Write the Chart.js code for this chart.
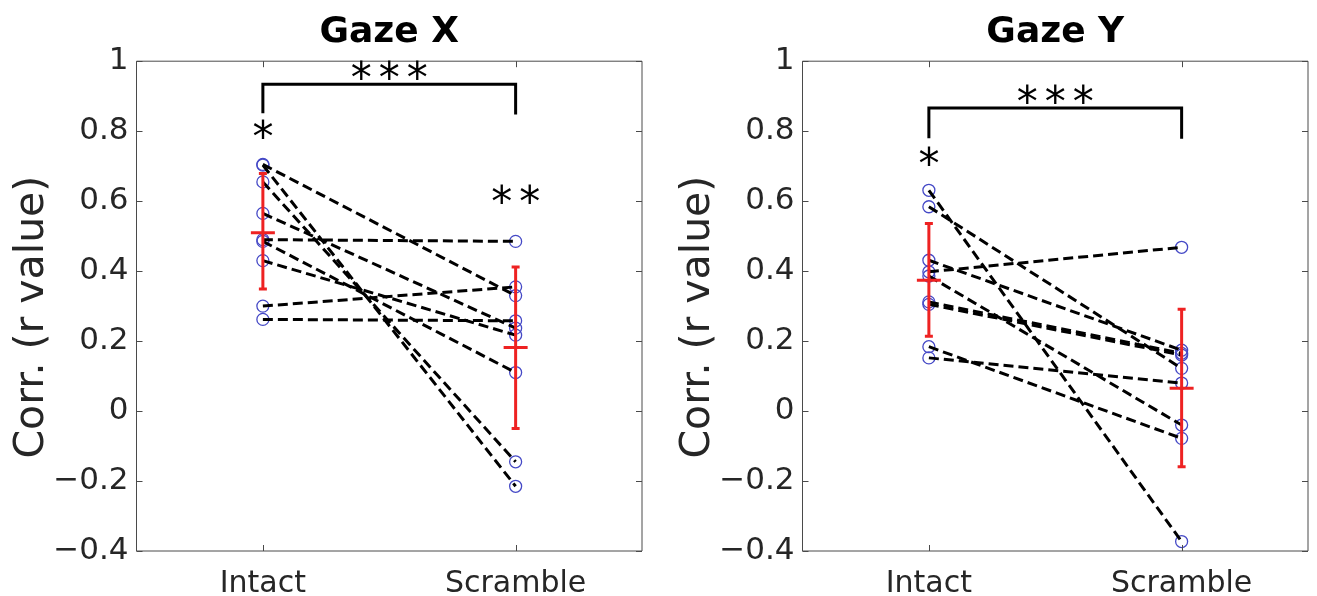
<!DOCTYPE html>
<html>
<head>
<meta charset="utf-8">
<script src="https://cdn.jsdelivr.net/npm/chart.js@4.4.1/dist/chart.umd.min.js"></script>
<style>
    html, body { margin: 0; padding: 0; background: #fff; }
    #wrap { position: relative; width: 1317px; height: 596px; overflow: hidden; }
    canvas { position: absolute; top: 0; }
    #gazeX { left: 0; }
    #gazeY { left: 666px; }
</style>
</head>
<body>
<div id="wrap">
    <canvas id="gazeX" width="657" height="596"></canvas>
    <canvas id="gazeY" width="657" height="596"></canvas>
</div>
<script>
// Bedingungen auf der x-Achse (Position 1 und 2)
var conditions = ['Intact', 'Scramble'];
var yTicks = [-0.4, -0.2, 0, 0.2, 0.4, 0.6, 0.8, 1];
var yTickLabels = ['\u22120.4', '\u22120.2', '0', '0.2', '0.4', '0.6', '0.8', '1'];
var yLabel = 'Corr. (r value)';

// Gaze X: Korrelation pro Proband (gleicher Index = gleicher Proband)
var gazeXIntact   = [0.705, 0.703, 0.655, 0.565, 0.490, 0.485, 0.430, 0.300, 0.262];
var gazeXScramble = [0.330, -0.215, -0.145, 0.237, 0.485, 0.110, 0.217, 0.355, 0.258];
var gazeXMean = [0.510, 0.182];
var gazeXLow  = [0.349, -0.050];
var gazeXHigh = [0.679, 0.412];

// Gaze Y
var gazeYIntact   = [0.631, 0.584, 0.431, 0.398, 0.386, 0.312, 0.305, 0.184, 0.152];
var gazeYScramble = [-0.373, 0.122, 0.174, 0.468, -0.040, 0.165, 0.160, -0.078, 0.080];
var gazeYMean = [0.374, 0.065];
var gazeYLow  = [0.214, -0.159];
var gazeYHigh = [0.536, 0.291];

// Signifikanz: Klammer (Höhe, Ende links, Ende rechts), Sterne über der Klammer,
// Sterne je Bedingung und deren Höhe
var gazeXBracket = [0.934, 0.851, 0.848];
var gazeXBracketStars = [3, 0.975];
var gazeXStars  = [1, 2];
var gazeXStarsY = [0.806, 0.620];

var gazeYBracket = [0.866, 0.780, 0.778];
var gazeYBracketStars = [3, 0.905];
var gazeYStars  = [1, 0];
var gazeYStarsY = [0.729, 0];

var RED = '#ee2222';
var BLUE = '#4549c6';
var AXIS = '#262626';

// Rahmen mit nach innen zeigenden Ticks (wie bei MATLAB "box on") plus y-Beschriftung
var boxAxes = {
    id: 'boxAxes',
    afterDraw: function(chart) {
        var ctx = chart.ctx, a = chart.chartArea;
        var xs = chart.scales.x, ys = chart.scales.y;
        var len = 6;
        ctx.save();
        ctx.strokeStyle = '#4a4a4a';
        ctx.lineWidth = 1;
        ctx.beginPath();
        ctx.rect(a.left, a.top, a.right - a.left, a.bottom - a.top);
        yTicks.forEach(function(v) {
            var y = Math.round(ys.getPixelForValue(v)) + 0.5;
            ctx.moveTo(a.left, y); ctx.lineTo(a.left + len, y);
            ctx.moveTo(a.right, y); ctx.lineTo(a.right - len, y);
        });
        conditions.forEach(function(c, i) {
            var x = Math.round(xs.getPixelForValue(i + 1)) + 0.5;
            ctx.moveTo(x, a.bottom); ctx.lineTo(x, a.bottom - len);
            ctx.moveTo(x, a.top); ctx.lineTo(x, a.top + len);
        });
        ctx.stroke();

        // Achsentitel, etwas unterhalb der Achsenmitte
        ctx.translate(32, (a.top + a.bottom) / 2 + 11);
        ctx.rotate(-Math.PI / 2);
        ctx.fillStyle = AXIS;
        ctx.font = '41px "DejaVu Sans"';
        ctx.textAlign = 'center';
        ctx.textBaseline = 'middle';
        ctx.fillText(yLabel, 0, 0);
        ctx.restore();
    }
};

function drawStars(ctx, cx, cy, n) {
    if (!n) return;
    var gap = 28;
    ctx.font = '42px "DejaVu Sans"';
    ctx.textAlign = 'center';
    ctx.textBaseline = 'alphabetic';
    var m = ctx.measureText('*');
    var yb = cy + (m.actualBoundingBoxAscent - m.actualBoundingBoxDescent) / 2;
    for (var k = 0; k < n; k++) {
        ctx.fillText('*', cx + (k - (n - 1) / 2) * gap, yb);
    }
}

// Klammer und Sterne
var sigMarks = {
    id: 'sigMarks',
    afterDraw: function(chart, args, opts) {
        var ctx = chart.ctx;
        var xs = chart.scales.x, ys = chart.scales.y;
        var x1 = xs.getPixelForValue(1), x2 = xs.getPixelForValue(2);
        var yb = ys.getPixelForValue(opts.bracket[0]);
        ctx.save();
        ctx.strokeStyle = '#000';
        ctx.fillStyle = '#000';
        ctx.lineWidth = 3;
        ctx.lineJoin = 'miter';
        ctx.beginPath();
        ctx.moveTo(x1, ys.getPixelForValue(opts.bracket[1]));
        ctx.lineTo(x1, yb);
        ctx.lineTo(x2, yb);
        ctx.lineTo(x2, ys.getPixelForValue(opts.bracket[2]));
        ctx.stroke();
        drawStars(ctx, (x1 + x2) / 2, ys.getPixelForValue(opts.bracketStars[1]), opts.bracketStars[0]);
        opts.stars.forEach(function(n, i) {
            drawStars(ctx, xs.getPixelForValue(i + 1), ys.getPixelForValue(opts.starsY[i]), n);
        });
        ctx.restore();
    }
};

function buildPanel(id, title, intact, scramble, mean, low, high, sig) {
    var datasets = [];

    // Mittelwert (oberste Ebene)
    datasets.push({
        data: mean.map(function(v, i) { return { x: i + 1, y: v }; }),
        showLine: false,
        pointStyle: 'line',
        pointRadius: 12,
        pointBorderWidth: 3,
        pointBorderColor: RED
    });

    // Fehlerbalken
    for (var i = 0; i < conditions.length; i++) {
        datasets.push({
            data: [{ x: i + 1, y: low[i] }, { x: i + 1, y: high[i] }],
            showLine: true,
            borderColor: RED,
            borderWidth: 3,
            pointStyle: 'line',
            pointRadius: 4,
            pointBorderWidth: 3,
            pointBorderColor: RED
        });
    }

    // gestrichelte Linie pro Proband
    for (var s = 0; s < intact.length; s++) {
        datasets.push({
            data: [{ x: 1, y: intact[s] }, { x: 2, y: scramble[s] }],
            showLine: true,
            borderColor: '#000',
            borderWidth: 3,
            borderDash: [10, 5],
            pointRadius: 0
        });
    }

    // Einzelwerte als offene Kreise
    datasets.push({
        data: intact.map(function(v) { return { x: 1, y: v }; })
            .concat(scramble.map(function(v) { return { x: 2, y: v }; })),
        showLine: false,
        pointStyle: 'circle',
        pointRadius: 6,
        pointBorderWidth: 1.3,
        pointBorderColor: BLUE,
        pointBackgroundColor: 'rgba(0,0,0,0)'
    });

    new Chart(document.getElementById(id), {
        type: 'scatter',
        data: { datasets: datasets },
        plugins: [boxAxes, sigMarks],
        options: {
            responsive: false,
            animation: false,
            events: [],
            devicePixelRatio: 1,
            layout: { padding: { left: 0, right: 0, top: 0, bottom: 0 } },
            plugins: {
                legend: { display: false },
                tooltip: { enabled: false },
                title: {
                    display: true,
                    text: title,
                    fullSize: false,
                    color: '#000',
                    font: { family: 'DejaVu Sans', size: 36, weight: 'bold' },
                    padding: { top: 11, bottom: 7 }
                },
                sigMarks: sig
            },
            scales: {
                x: {
                    type: 'linear',
                    min: 0.5,
                    max: 2.5,
                    afterBuildTicks: function(scale) {
                        scale.ticks = conditions.map(function(c, i) { return { value: i + 1 }; });
                    },
                    afterFit: function(scale) { scale.height = 45; },
                    grid: { display: false },
                    border: { display: false },
                    ticks: {
                        autoSkip: false,
                        maxRotation: 0,
                        padding: 7,
                        color: AXIS,
                        font: { family: 'DejaVu Sans', size: 30 },
                        callback: function(v, idx) { return conditions[idx]; }
                    }
                },
                y: {
                    min: -0.4,
                    max: 1,
                    afterBuildTicks: function(scale) {
                        scale.ticks = yTicks.map(function(v) { return { value: v }; });
                    },
                    afterFit: function(scale) { scale.width = 136.5; },
                    grid: { display: false },
                    border: { display: false },
                    ticks: {
                        padding: 0,
                        color: AXIS,
                        font: { family: 'DejaVu Sans', size: 31 },
                        callback: function(v, idx) { return yTickLabels[idx]; }
                    },
                    title: { display: false }
                }
            }
        }
    });
}

buildPanel('gazeX', 'Gaze X', gazeXIntact, gazeXScramble, gazeXMean, gazeXLow, gazeXHigh, {
    bracket: gazeXBracket, bracketStars: gazeXBracketStars, stars: gazeXStars, starsY: gazeXStarsY
});
buildPanel('gazeY', 'Gaze Y', gazeYIntact, gazeYScramble, gazeYMean, gazeYLow, gazeYHigh, {
    bracket: gazeYBracket, bracketStars: gazeYBracketStars, stars: gazeYStars, starsY: gazeYStarsY
});
</script>
</body>
</html>
